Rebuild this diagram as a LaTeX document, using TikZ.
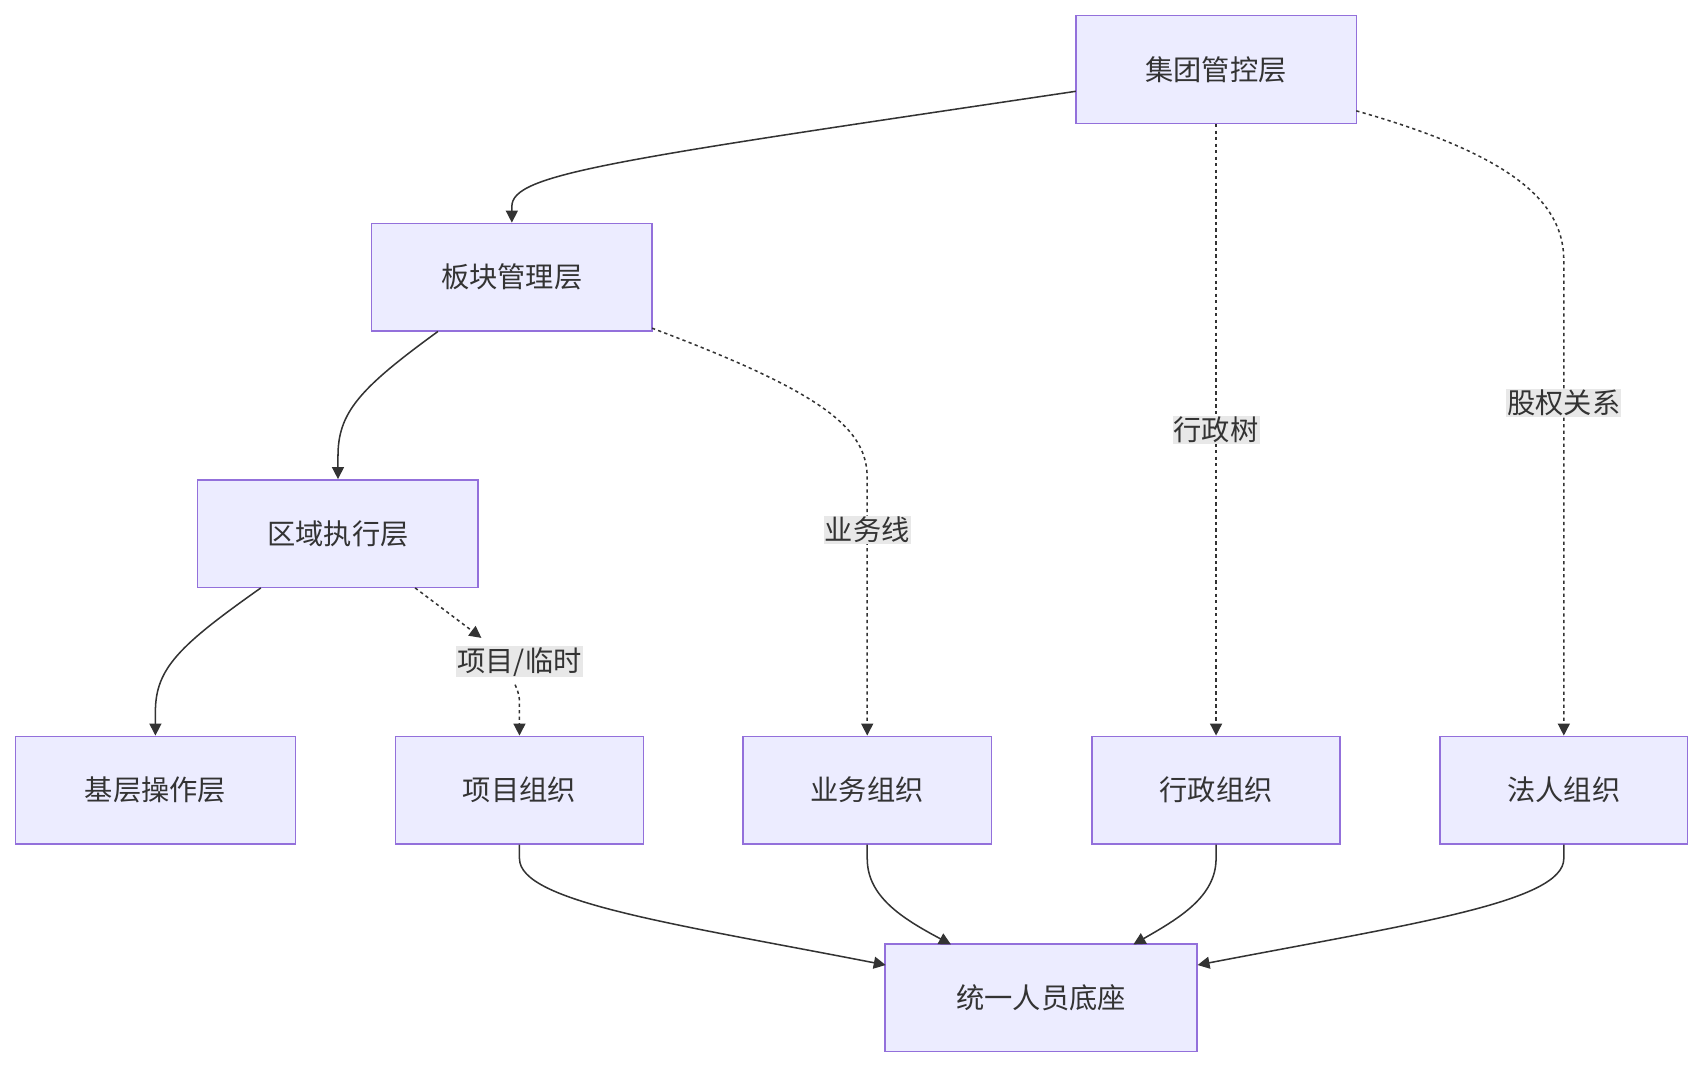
\documentclass[tikz,border=0pt]{standalone}
\usepackage{fontspec}
\setmainfont{Noto Sans CJK SC}
\usetikzlibrary{arrows.meta}
\begin{document}
\begin{tikzpicture}[x=1pt,y=-1pt,
  box/.style={rectangle, draw=boxborder, fill=boxfill, line width=1.3pt, minimum height=99pt, font=\fontsize{26}{30}\selectfont, text=txt, inner sep=0pt},
  conn/.style={draw=lc, line width=1.4pt, -{Triangle[length=11pt,width=11pt]}},
  dot/.style={conn, dash pattern=on 3pt off 3pt},
  lab/.style={fill=labbg, font=\fontsize{26}{30}\selectfont, text=txt, inner sep=1pt}]
\definecolor{boxborder}{HTML}{9370DB}
\definecolor{boxfill}{HTML}{ECECFF}
\definecolor{lc}{HTML}{333333}
\definecolor{txt}{HTML}{333333}
\definecolor{labbg}{HTML}{E8E8E8}
\useasboundingbox (0,0) rectangle (1568,983);
\node[box, minimum width=258pt] (A) at (1119,64) {集团管控层};
\node[box, minimum width=258pt] (B) at (471,255) {板块管理层};
\node[box, minimum width=258pt] (C) at (311,491) {区域执行层};
\node[box, minimum width=258pt] (D) at (143,727) {基层操作层};
\node[box, minimum width=228pt] (P) at (478,727) {项目组织};
\node[box, minimum width=229pt] (Y) at (798,727) {业务组织};
\node[box, minimum width=228pt] (X) at (1119,727) {行政组织};
\node[box, minimum width=228pt] (F) at (1439,727) {法人组织};
\node[box, minimum width=287pt] (U) at (958,918) {统一人员底座};
\coordinate (a1) at (990,84);
\draw[conn] (a1) .. controls (560,148) and (471,160) .. (471,190) -- (B.north);
\coordinate (b1) at (403,305);
\draw[conn] (b1) .. controls (330,358) and (311,380) .. (311,420) -- (C.north);
\coordinate (c1) at (240,541);
\draw[conn] (c1) .. controls (165,594) and (143,615) .. (143,655) -- (D.north);
\draw[dot] (A.south) -- node[lab]{行政树} (X.north);
\coordinate (a2) at (1248,102);
\draw[dot] (a2) .. controls (1400,145) and (1439,190) .. (1439,240) -- node[lab, pos=0.3]{股权关系} (F.north);
\coordinate (b2) at (600,302);
\draw[dot] (b2) .. controls (760,362) and (798,395) .. (798,440) -- node[lab, pos=0.2]{业务线} (Y.north);
\coordinate (c2) at (382,541);
\draw[dot] (c2) -- (443,587);
\node[lab] (lp) at (478,609) {项目/临时};
\draw[dot] (474,630) .. controls (478,640) .. (478,650) -- (P.north);
\coordinate (u1) at (815,888);
\coordinate (u2) at (875,869);
\coordinate (u3) at (1043,869);
\coordinate (u4) at (1102,888);
\draw[conn] (P.south) -- (478,790) .. controls (478,830) and (620,850) .. (u1);
\draw[conn] (Y.south) -- (798,790) .. controls (798,825) and (830,845) .. (u2);
\draw[conn] (X.south) -- (1119,790) .. controls (1119,825) and (1085,845) .. (u3);
\draw[conn] (F.south) -- (1439,790) .. controls (1439,830) and (1300,850) .. (u4);
\end{tikzpicture}
\end{document}
